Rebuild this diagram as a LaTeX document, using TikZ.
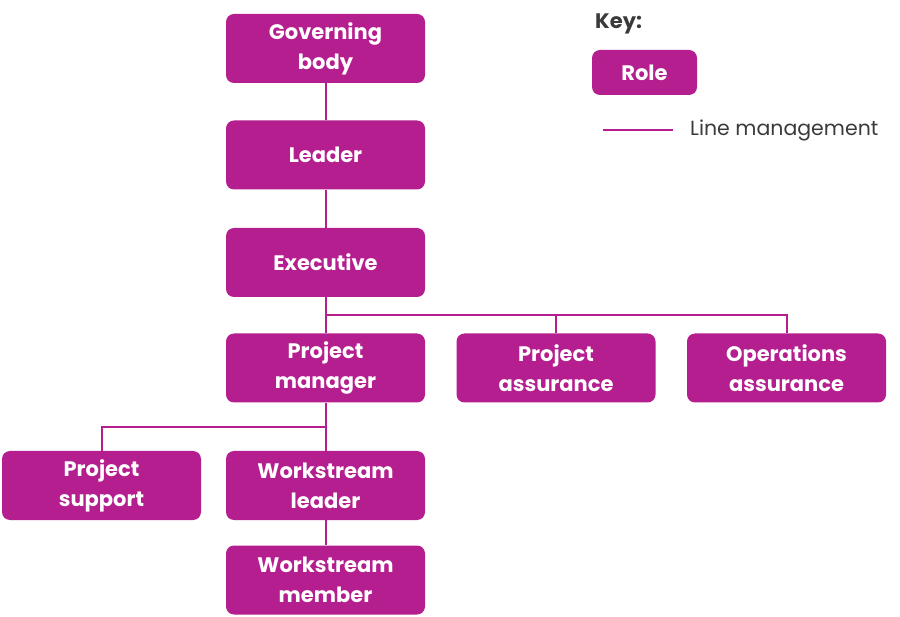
\documentclass[tikz,border=0pt]{standalone}
\usepackage{fontspec}
\setmainfont{Poppins}
\definecolor{mag}{RGB}{180,30,142}
\definecolor{txt}{RGB}{58,58,58}
\begin{document}
\begin{tikzpicture}[x=1pt,y=-1pt,
  role/.style={fill=mag,rounded corners=8pt,minimum width=199pt,minimum height=69pt,
    text=white,font=\fontsize{21}{30}\selectfont\bfseries,align=center,inner sep=0pt},
  conn/.style={draw=mag,line width=2pt}]
\useasboundingbox (0,0) rectangle (900,617);
\node[role] (gov) at (325.5,48.5) {Governing\\body};
\node[role] (lead) at (325.5,155) {Leader};
\node[role] (exec) at (325.5,262.5) {Executive};
\node[role] (pm) at (325.5,368) {Project\\manager};
\node[role] (pa) at (556,368) {Project\\assurance};
\node[role] (oa) at (786.5,368) {Operations\\assurance};
\node[role] (ps) at (101.5,485.5) {Project\\support};
\node[role] (wl) at (325.5,485.5) {Workstream\\leader};
\node[role] (wm) at (325.5,580) {Workstream\\member};
\node[role,minimum width=105pt,minimum height=45pt] (key) at (644.5,72.5) {Role};
\node[anchor=west,text=txt,font=\fontsize{21}{24}\selectfont\bfseries,inner sep=0pt] (keyt) at (595,24) {Key:};
\coordinate (la) at (603,130);
\coordinate (lb) at (673,130);
\node[anchor=west,text=txt,font=\fontsize{20.5}{24}\selectfont,inner sep=0pt] (lmt) at (690,130) {Line management};
\draw[conn] (la) -- (lb);
\coordinate (bus) at (325.5,315);
\coordinate (bus2) at (325.5,427);
\draw[conn] (gov) -- (lead);
\draw[conn] (lead) -- (exec);
\draw[conn] (exec) -- (pm);
\draw[conn] (bus) -| (pa.north);
\draw[conn] (bus) -| (oa.north);
\draw[conn] (pm) -- (wl);
\draw[conn] (bus2) -| (ps.north);
\draw[conn] (wl) -- (wm);
\end{tikzpicture}
\end{document}
